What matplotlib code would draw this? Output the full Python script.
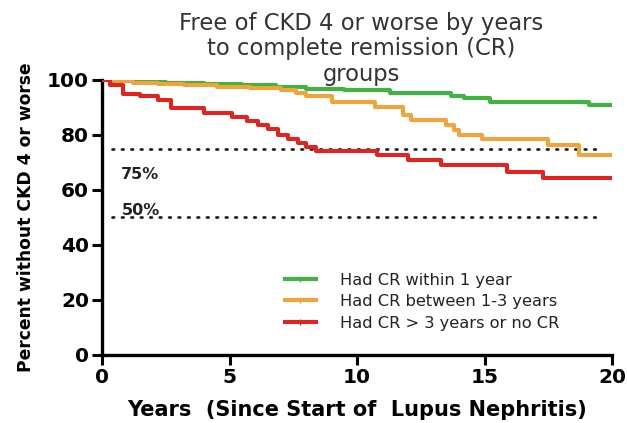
import matplotlib
matplotlib.use("Agg")
import matplotlib.pyplot as plt
from matplotlib.lines import Line2D

plt.rcParams['font.family'] = ['DejaVu Sans']

# ---- data ----
green_t = [0, 0.4, 1.2, 2.5, 4.0, 5.5, 6.8, 8.0, 9.5, 11.3, 13.7, 14.2, 15.2, 19.1, 20]
green_s = [100, 99.6, 99.2, 98.8, 98.4, 98.0, 97.4, 96.8, 96.2, 95.2, 94.3, 93.4, 92.1, 90.9, 90.9]

orange_t = [0, 0.5, 1.2, 2.2, 3.2, 4.5, 5.8, 7.0, 7.6, 8.0, 9.0, 10.7, 11.8, 12.1, 13.5, 13.8, 14.0, 14.9, 17.5, 18.7, 20]
orange_s = [100, 99.5, 99.0, 98.5, 98.0, 97.5, 97.0, 96.3, 95.3, 94.3, 92.1, 90.3, 87.3, 85.5, 83.5, 81.8, 80.0, 78.5, 76.4, 72.7, 72.7]

red_t = [0, 0.3, 0.8, 1.5, 2.2, 2.7, 4.0, 5.1, 5.7, 6.1, 6.5, 6.9, 7.3, 7.7, 8.0, 8.4, 10.8, 12.0, 13.3, 15.9, 17.3, 20]
red_s = [100, 98.0, 95.0, 94.0, 92.7, 89.8, 88.0, 86.7, 85.0, 83.5, 82.0, 80.0, 78.5, 77.0, 75.5, 74.3, 72.7, 70.9, 69.1, 66.5, 64.4, 64.4]

labels = ["Had CR within 1 year", "Had CR between 1-3 years", "Had CR > 3 years or no CR"]
colors = ["#3db63d", "#f4a23a", "#e3231f"]

ref_levels = [75, 50]
ref_labels = ["75%", "50%"]
ref_label_y = [63.8, 50.8]

x_ticks = [0, 5, 10, 15, 20]
y_ticks = [0, 20, 40, 60, 80, 100]

title = "Free of CKD 4 or worse by years\nto complete remission (CR)\ngroups"
xlabel = "Years  (Since Start of  Lupus Nephritis)"
ylabel = "Percent without CKD 4 or worse"

# ---- figure ----
fig = plt.figure(figsize=(6.27, 4.23), dpi=100)
ax = fig.add_axes([0.163, 0.161, 0.813, 0.650])

for lvl in ref_levels:
    ax.plot([0.4, 19.6], [lvl, lvl], color="#222222", lw=2.0,
            linestyle=(0, (0.6, 2.8)), dash_capstyle='round', zorder=1)

series = [(green_t, green_s), (orange_t, orange_s), (red_t, red_s)]
for (t, s), c, lab in zip(series, colors, labels):
    ax.step(t, s, where='post', color=c, lw=2.9, label=lab, zorder=3)

for lab, yv in zip(ref_labels, ref_label_y):
    ax.text(0.75, yv, lab, fontsize=11.5, fontweight='bold', color='#222222')

ax.set_xlim(0, 20)
ax.set_ylim(0, 100)
ax.set_xticks(x_ticks)
ax.set_yticks(y_ticks)
ax.tick_params(axis='both', which='major', length=7, width=2.2, direction='out',
               labelsize=14.5, pad=2.5)
for lab in ax.get_xticklabels() + ax.get_yticklabels():
    lab.set_fontweight('bold')
for sp in ['top', 'right']:
    ax.spines[sp].set_visible(False)
for sp in ['left', 'bottom']:
    ax.spines[sp].set_linewidth(2.4)
ax.spines['left'].set_bounds(0, 100)

ax.set_xlabel(xlabel, fontsize=15, fontweight='bold', labelpad=9)
ax.set_ylabel(ylabel, fontsize=12.3, fontweight='bold', labelpad=9)

handles = [Line2D([0], [0], color=c, lw=2.9, marker='+', markersize=4) for c in colors]
leg = ax.legend(handles, labels, loc='lower left', bbox_to_anchor=(0.33, 0.035),
                frameon=False, fontsize=11.7, handlelength=1.9, labelspacing=0.4,
                handletextpad=1.5)
for txt in leg.get_texts():
    txt.set_color('#222222')

fig.text(0.576, 0.972, title, ha='center', va='top', fontsize=16.3,
         color='#333333', linespacing=1.13)

fig.savefig("out.png", dpi=100)
